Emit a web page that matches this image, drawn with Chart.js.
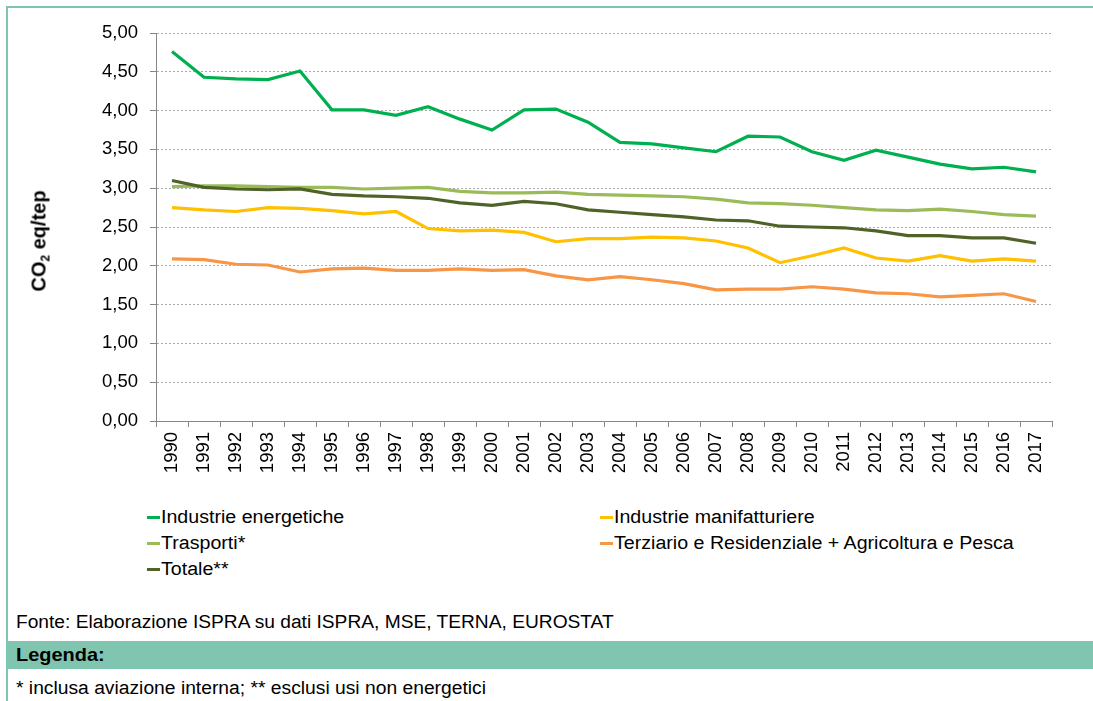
<!DOCTYPE html>
<html>
<head>
<meta charset="utf-8">
<script src="https://cdn.jsdelivr.net/npm/chart.js@4.4.1/dist/chart.umd.min.js"></script>
<style>
  html, body { margin: 0; padding: 0; background: #fff; }
  body { width: 1093px; height: 701px; position: relative; overflow: hidden; font-family: "Liberation Sans", Arial, sans-serif; color: #000; }
  .abs { position: absolute; }
  #chartWrap { position: absolute; left: 0; top: 0; width: 1093px; height: 480px; }
  .txt { position: absolute; white-space: nowrap; transform-origin: 0 50%; line-height: 20px; }
  .legItem { position: absolute; height: 20px; white-space: nowrap; }
  .legMark { position: absolute; width: 13px; height: 3px; top: 9px; left: 0; }
  .legText { position: absolute; left: 14px; top: 0; font-size: 18px; line-height: 20px; transform: scaleX(1.09); transform-origin: 0 50%; }
</style>
</head>
<body>
<div class="abs" style="left:6px;top:6px;width:1087px;height:2px;background:#7fc4ae;"></div>
<div class="abs" style="left:6px;top:6px;width:2px;height:695px;background:#7fc4ae;"></div>
<div id="chartWrap"><canvas id="c" width="1093" height="480"></canvas></div>
<div id="ytitle" class="abs" style="left:42px;top:241px;transform:translate(-50%,-50%) rotate(-90deg);font-weight:bold;font-size:20px;white-space:nowrap;line-height:24px;">CO<sub style="font-size:12px;vertical-align:-4px;">2</sub> eq/tep</div>
<div id="legend"></div>
<div class="txt" style="left:16px;top:612px;font-size:18px;transform:scaleX(1.065);">Fonte: Elaborazione ISPRA su dati ISPRA, MSE, TERNA, EUROSTAT</div>
<div class="abs" style="left:8px;top:641px;width:1085px;height:28px;background:#80c5af;"></div>
<div class="txt" style="left:16px;top:645px;font-size:19px;font-weight:bold;transform:scaleX(1.05);">Legenda:</div>
<div class="txt" style="left:16px;top:678px;font-size:18px;transform:scaleX(1.07);">* inclusa aviazione interna; ** esclusi usi non energetici</div>
<script>
const years = ['1990','1991','1992','1993','1994','1995','1996','1997','1998','1999','2000','2001','2002','2003','2004','2005','2006','2007','2008','2009','2010','2011','2012','2013','2014','2015','2016','2017'];
const yTicks = [0, 0.5, 1, 1.5, 2, 2.5, 3, 3.5, 4, 4.5, 5];
const seriesNames = ['Industrie energetiche', 'Industrie manifatturiere', 'Trasporti*', 'Terziario e Residenziale + Agricoltura e Pesca', 'Totale**'];
const industrieEnergetiche = [4.76,4.43,4.41,4.40,4.51,4.01,4.01,3.94,4.05,3.89,3.75,4.01,4.02,3.85,3.59,3.57,3.52,3.47,3.67,3.66,3.47,3.36,3.49,3.40,3.31,3.25,3.27,3.21];
const industrieManifatturiere = [2.75,2.72,2.70,2.75,2.74,2.71,2.67,2.70,2.48,2.45,2.46,2.43,2.31,2.35,2.35,2.37,2.36,2.32,2.23,2.04,2.13,2.23,2.10,2.06,2.13,2.06,2.09,2.06];
const trasporti = [3.02,3.03,3.03,3.02,3.01,3.01,2.99,3.00,3.01,2.96,2.94,2.94,2.95,2.92,2.91,2.90,2.89,2.86,2.81,2.80,2.78,2.75,2.72,2.71,2.73,2.70,2.66,2.64];
const terziario = [2.09,2.08,2.02,2.01,1.92,1.96,1.97,1.94,1.94,1.96,1.94,1.95,1.87,1.82,1.86,1.82,1.77,1.69,1.70,1.70,1.73,1.70,1.65,1.64,1.60,1.62,1.64,1.54];
const totale = [3.10,3.01,2.99,2.98,2.99,2.92,2.90,2.89,2.87,2.81,2.78,2.83,2.80,2.72,2.69,2.66,2.63,2.59,2.58,2.51,2.50,2.49,2.45,2.39,2.39,2.36,2.36,2.29];
const seriesColors = ['#00b050', '#ffc000', '#9bbb59', '#f79646', '#4f6228'];
const seriesData = [industrieEnergetiche, industrieManifatturiere, trasporti, terziario, totale];

const datasets = seriesNames.map((name, i) => ({
  label: name,
  data: seriesData[i],
  borderColor: seriesColors[i],
  backgroundColor: seriesColors[i],
  borderWidth: 3.2,
  pointRadius: 0,
  pointHoverRadius: 0,
  tension: 0,
  fill: false,
  order: seriesNames.length - i
}));

const fmt = v => v.toFixed(2).replace('.', ',');

new Chart(document.getElementById('c'), {
  type: 'line',
  data: { labels: years, datasets },
  options: {
    responsive: false,
    animation: false,
    events: [],
    layout: { padding: { top: 33, right: 41, left: 0, bottom: 0 } },
    plugins: { legend: { display: false }, tooltip: { enabled: false }, title: { display: false } },
    scales: {
      x: {
        type: 'category',
        offset: true,
        afterFit: s => { s.height = 59; },
        grid: { offset: true, drawOnChartArea: false, drawTicks: true, tickLength: 6, tickColor: '#868686', tickWidth: 1 },
        border: { display: true, color: '#868686', width: 1 },
        ticks: { minRotation: 90, maxRotation: 90, autoSkip: false, padding: 5, color: '#000', font: { family: 'Liberation Sans', size: 18.5 } }
      },
      y: {
        min: 0, max: 5,
        afterFit: s => { s.width = 156; },
        afterBuildTicks: s => { s.ticks = yTicks.map(v => ({ value: v })); },
        grid: { color: '#ababab', lineWidth: 1, drawTicks: true, tickLength: 6, tickColor: '#868686', tickWidth: 1, tickBorderDash: [] },
        border: { display: true, color: '#868686', width: 1, dash: [2, 2] },
        ticks: { padding: 12, color: '#000', callback: v => fmt(v), font: { family: 'Liberation Sans', size: 18.5 } }
      }
    }
  }
});

// HTML legend built from the series arrays
const legendPos = [[147, 507], [600, 507], [147, 533], [600, 533], [147, 559]];
const legend = document.getElementById('legend');
seriesNames.forEach((name, i) => {
  const item = document.createElement('div');
  item.className = 'legItem';
  item.style.left = legendPos[i][0] + 'px';
  item.style.top = legendPos[i][1] + 'px';
  const mark = document.createElement('div');
  mark.className = 'legMark';
  mark.style.background = seriesColors[i];
  const t = document.createElement('div');
  t.className = 'legText';
  t.textContent = name;
  item.appendChild(mark);
  item.appendChild(t);
  legend.appendChild(item);
});
</script>
</body>
</html>
